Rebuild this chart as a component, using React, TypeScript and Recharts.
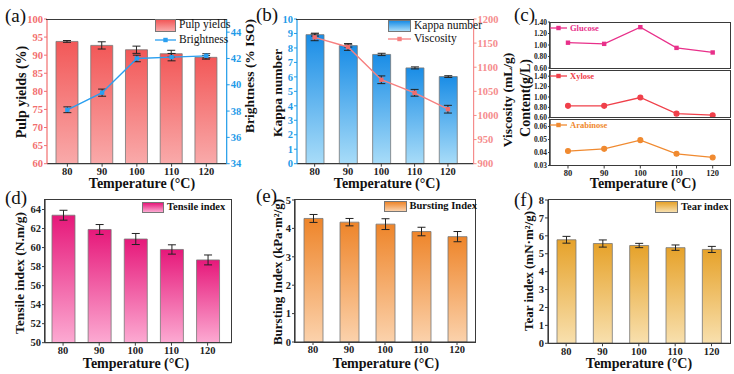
import React from "react";
import { ComposedChart, Bar, Line, XAxis, YAxis, ErrorBar } from "recharts";

const temperatures = ["80", "90", "100", "110", "120"];

// (a) pulp yield and brightness
const pulpYield = [93.8, 92.7, 91.5, 90.4, 89.4];
const pulpYieldErr = [0.25, 1.0, 1.0, 0.95, 0.5];
const brightness = [38.1, 39.4, 42.0, 42.1, 42.2];
const brightnessErr = [0.22, 0.27, 0.25, 0.28, 0.16];

// (b) kappa number and viscosity
const kappa = [8.92, 8.16, 7.55, 6.62, 6.02];
const kappaErr = [0.1, 0.1, 0.08, 0.07, 0.06];
const viscosity = [1162, 1142, 1074, 1047, 1013];
const viscosityErr = [7, 7, 8, 7, 8];

// (c) sugars in the liquor
const glucose = [1.04, 1.02, 1.31, 0.95, 0.87];
const xylose = [0.83, 0.83, 0.99, 0.68, 0.65];
const arabinose = [0.0411, 0.0428, 0.0495, 0.039, 0.0362];

// (d)-(f) paper strength
const tensile = [63.4, 61.9, 60.9, 59.8, 58.7];
const tensileErr = [0.52, 0.52, 0.58, 0.49, 0.52];
const bursting = [4.35, 4.22, 4.15, 3.89, 3.71];
const burstingErr = [0.14, 0.13, 0.19, 0.15, 0.18];
const tear = [5.78, 5.57, 5.46, 5.34, 5.24];
const tearErr = [0.19, 0.2, 0.12, 0.15, 0.17];

const SERIF = "'Liberation Serif', 'Times New Roman', serif";
const FRAME = "#3a3a3a";
const AXIS_W = 34;
const AXIS_H = 16;
const TOP = 5;
const BOTTOM = 5;

const rows = (cols: Record<string, number[]>) =>
  temperatures.map((t, i) => {
    const r: Record<string, any> = { t };
    Object.keys(cols).forEach((k) => (r[k] = cols[k][i]));
    return r;
  });

type Box = { x0: number; y0: number; x1: number; y1: number };

const tickStyle = (fill: string, size = 10.5) => ({
  fill,
  fontSize: size,
  fontWeight: 700,
  fontFamily: SERIF,
});

function Plot({
  box,
  data,
  rightAxis = false,
  xTicks = true,
  frame = "full",
  children,
}: {
  box: Box;
  data: any[];
  rightAxis?: boolean;
  xTicks?: boolean;
  frame?: "full" | "top";
  children: React.ReactNode;
}) {
  const xh = xTicks ? AXIS_H : 0;
  const rightW = rightAxis ? AXIS_W : 0;
  const mr = rightAxis ? 0 : 4;
  const width = box.x1 - box.x0 + AXIS_W + rightW + mr;
  const height = box.y1 - box.y0 + TOP + xh + BOTTOM;
  // box outline drawn over the plot area
  const border = `1.3px solid ${FRAME}`;
  const edge = frame === "full" ? { border } : { borderTop: border };
  return (
    <>
      <div style={{ position: "absolute", left: box.x0 - AXIS_W, top: box.y0 - TOP }}>
        <ComposedChart
          width={width}
          height={height}
          data={data}
          margin={{ top: TOP, right: mr, bottom: BOTTOM, left: 0 }}
        >
          {children}
        </ComposedChart>
      </div>
      <div
        style={{
          position: "absolute",
          left: box.x0 - 0.6,
          top: box.y0 - 0.6,
          width: box.x1 - box.x0 + 1.2,
          height: box.y1 - box.y0 + 1.2,
          boxSizing: "border-box",
          pointerEvents: "none",
          ...edge,
        }}
      />
    </>
  );
}

function Gradient({ id, top, bottom }: { id: string; top: string; bottom: string }) {
  return (
    <defs>
      <linearGradient id={id} x1="0" y1="0" x2="0" y2="1">
        <stop offset="0" stopColor={top} />
        <stop offset="1" stopColor={bottom} />
      </linearGradient>
    </defs>
  );
}

function Text({
  x,
  y,
  text,
  size = 14,
  vertical = false,
  bold = true,
  color = "#111",
  anchor = "center",
}: {
  x: number;
  y: number;
  text: React.ReactNode;
  size?: number;
  vertical?: boolean;
  bold?: boolean;
  color?: string;
  anchor?: "center" | "left";
}) {
  const tx = anchor === "center" ? "-50%" : "0";
  return (
    <div
      style={{
        position: "absolute",
        left: x,
        top: y,
        transform: `translate(${tx},-50%)${vertical ? " rotate(-90deg)" : ""}`,
        whiteSpace: "nowrap",
        fontFamily: SERIF,
        fontWeight: bold ? 700 : 400,
        fontSize: size,
        color,
        lineHeight: 1,
      }}
    >
      {text}
    </div>
  );
}

function BarKey({ x, y, w, h, top, bottom, label, bold = false, size }: any) {
  return (
    <>
      <div
        style={{
          position: "absolute",
          left: x,
          top: y,
          width: w,
          height: h,
          boxSizing: "border-box",
          border: "1px solid #777",
          background: `linear-gradient(${top}, ${bottom})`,
        }}
      />
      <Text x={x + w + 3} y={y + h / 2} text={label} anchor="left" bold={bold} size={size} />
    </>
  );
}

function LineKey({ x, y, w, color, label, square = true, size = 11, bold = false, textColor = "#111" }: any) {
  return (
    <>
      <svg style={{ position: "absolute", left: x, top: y - 4 }} width={w} height={8}>
        <line x1={0} y1={4} x2={w} y2={4} stroke={color} strokeWidth={1.3} />
        {square ? (
          <rect x={w / 2 - 2.2} y={1.8} width={4.4} height={4.4} fill={color} />
        ) : (
          <circle cx={w / 2} cy={4} r={2.4} fill={color} />
        )}
      </svg>
      <Text x={x + w + 3} y={y} text={label} anchor="left" size={size} bold={bold} color={textColor} />
    </>
  );
}

const squareDot = (color: string) => (p: any) =>
  <rect key={`sq-${p.index}`} x={p.cx - 2.2} y={p.cy - 2.2} width={4.4} height={4.4} fill={color} />;

function xAxis(padding: { left: number; right: number }, show = true, size = 10.5) {
  return (
    <XAxis
      dataKey="t"
      interval={0}
      height={show ? AXIS_H : 0}
      tick={show ? tickStyle("#222", size) : false}
      tickSize={3}
      tickMargin={1}
      tickLine={{ stroke: FRAME }}
      axisLine={{ stroke: FRAME, strokeWidth: 1.2 }}
      padding={padding}
    />
  );
}

const dataA = rows({ pulpYield, pulpYieldErr, brightness, brightnessErr });
const dataB = rows({ kappa, kappaErr, viscosity, viscosityErr });
const dataC = rows({ glucose, xylose, arabinose });
const dataD = rows({ tensile, tensileErr });
const dataE = rows({ bursting, burstingErr });
const dataF = rows({ tear, tearErr });

const RED_TICK = "#f26e6e";
const BLUE_TICK = "#1e9be8";
const PINK_TICK = "#f58c8c";

function SugarPanel({ box, dataKey, color, domain, ticks, square, showX, label }: any) {
  return (
    <>
      <Plot box={box} data={dataC} xTicks={showX}>
        {/* line-only chart uses a point scale, so pad it to band centres */}
        {xAxis({ left: 18, right: 18 }, showX, 8.5)}
        <YAxis
          width={AXIS_W}
          domain={domain}
          ticks={ticks}
          interval={0}
          allowDataOverflow
          tickFormatter={(v: number) => v.toFixed(2)}
          tick={tickStyle("#222", 7.5)}
          tickSize={2}
          tickMargin={1}
          tickLine={{ stroke: FRAME }}
          axisLine={{ stroke: FRAME, strokeWidth: 1.4 }}
        />
        <Line
          dataKey={dataKey}
          stroke={color}
          strokeWidth={1.3}
          dot={square ? squareDot(color) : { r: 2.4, fill: color, stroke: color }}
          isAnimationActive={false}
        />
      </Plot>
      <LineKey x={550} y={box.y0 + 5.5} w={17} color={color} square={square} label={label} size={8.5} bold textColor={color} />
    </>
  );
}

export default function App() {
  return (
    <div
      style={{
        position: "absolute",
        left: 0,
        top: 0,
        width: 734,
        height: 374,
        background: "#fff",
        overflow: "hidden",
      }}
    >
      {/* (a) pulp yield bars with brightness line */}
      <Plot box={{ x0: 47, y0: 19.3, x1: 226.7, y1: 164 }} data={dataA} rightAxis frame="top">
        <Gradient id="gradA" top="#f25858" bottom="#f9aaaa" />
        {xAxis({ left: 3, right: 3 })}
        <YAxis
          yAxisId="left"
          width={AXIS_W}
          domain={[60, 100]}
          ticks={[60, 65, 70, 75, 80, 85, 90, 95, 100]}
          interval={0}
          allowDataOverflow
          tick={tickStyle(RED_TICK)}
          tickSize={3}
          tickMargin={1}
          tickLine={{ stroke: RED_TICK }}
          axisLine={{ stroke: RED_TICK, strokeWidth: 1.2 }}
        />
        <YAxis
          yAxisId="right"
          orientation="right"
          width={AXIS_W}
          domain={[34, 45]}
          ticks={[34, 36, 38, 40, 42, 44]}
          interval={0}
          allowDataOverflow
          tick={tickStyle(BLUE_TICK)}
          tickSize={3}
          tickMargin={1}
          tickLine={{ stroke: BLUE_TICK }}
          axisLine={{ stroke: BLUE_TICK, strokeWidth: 1.2 }}
        />
        <Bar yAxisId="left" dataKey="pulpYield" barSize={22} fill="url(#gradA)" stroke="#777" strokeWidth={0.8} isAnimationActive={false}>
          <ErrorBar dataKey="pulpYieldErr" direction="y" width={4} stroke="#222" strokeWidth={1} />
        </Bar>
        <Line yAxisId="right" dataKey="brightness" stroke="#2a9ff0" strokeWidth={1.4} dot={squareDot("#2a9ff0")} isAnimationActive={false}>
          <ErrorBar dataKey="brightnessErr" direction="y" width={4} stroke="#222" strokeWidth={1} />
        </Line>
      </Plot>
      <BarKey x={155} y={18.5} w={21} h={13} top="#f25858" bottom="#f9aaaa" label="Pulp yields" size={11.5} />
      <LineKey x={155} y={39.5} w={21} color="#2a9ff0" label="Brightness" size={11.5} />

      {/* (b) kappa number bars with viscosity line */}
      <Plot box={{ x0: 296.7, y0: 19.3, x1: 473.3, y1: 164 }} data={dataB} rightAxis frame="top">
        <Gradient id="gradB" top="#1a8de6" bottom="#a8dcf8" />
        {xAxis({ left: 1, right: 9 })}
        <YAxis
          yAxisId="left"
          width={AXIS_W}
          domain={[0, 10]}
          ticks={[0, 1, 2, 3, 4, 5, 6, 7, 8, 9, 10]}
          interval={0}
          tick={tickStyle(BLUE_TICK)}
          tickSize={3}
          tickMargin={1}
          tickLine={{ stroke: BLUE_TICK }}
          axisLine={{ stroke: BLUE_TICK, strokeWidth: 1.2 }}
        />
        <YAxis
          yAxisId="right"
          orientation="right"
          width={AXIS_W}
          domain={[900, 1200]}
          ticks={[900, 950, 1000, 1050, 1100, 1150, 1200]}
          interval={0}
          allowDataOverflow
          tick={tickStyle(PINK_TICK)}
          tickSize={3}
          tickMargin={1}
          tickLine={{ stroke: PINK_TICK }}
          axisLine={{ stroke: PINK_TICK, strokeWidth: 1.2 }}
        />
        <Bar yAxisId="left" dataKey="kappa" barSize={18} fill="url(#gradB)" stroke="#777" strokeWidth={0.8} isAnimationActive={false}>
          <ErrorBar dataKey="kappaErr" direction="y" width={4} stroke="#222" strokeWidth={1} />
        </Bar>
        <Line yAxisId="right" dataKey="viscosity" stroke="#f78080" strokeWidth={1.4} dot={squareDot("#f06c6c")} isAnimationActive={false}>
          <ErrorBar dataKey="viscosityErr" direction="y" width={4} stroke="#222" strokeWidth={1} />
        </Line>
      </Plot>
      <BarKey x={388} y={20} w={23} h={12} top="#1a8de6" bottom="#a8dcf8" label="Kappa number" size={11.5} />
      <LineKey x={388} y={39} w={23} color="#f78080" label="Viscosity" size={11.5} />

      {/* (c) sugar content, three stacked panels */}
      <SugarPanel
        box={{ x0: 550, y0: 22.3, x1: 730.7, y1: 68.3 }}
        dataKey="glucose"
        color="#e8308a"
        domain={[0.6, 1.4]}
        ticks={[0.6, 0.8, 1.0, 1.2, 1.4]}
        square
        showX={false}
        label="Glucose"
      />
      <SugarPanel
        box={{ x0: 550, y0: 70.5, x1: 730.7, y1: 117.3 }}
        dataKey="xylose"
        color="#f0404a"
        domain={[0.6, 1.5]}
        ticks={[0.6, 0.8, 1.0, 1.2, 1.4]}
        showX={false}
        label="Xylose"
      />
      <SugarPanel
        box={{ x0: 550, y0: 119.5, x1: 730.7, y1: 165 }}
        dataKey="arabinose"
        color="#f08a30"
        domain={[0.03, 0.065]}
        ticks={[0.03, 0.04, 0.05, 0.06]}
        showX
        label="Arabinose"
      />

      {/* (d) tensile index */}
      <Plot box={{ x0: 45, y0: 200, x1: 231.7, y1: 342.7 }} data={dataD}>
        <Gradient id="gradD" top="#e6187a" bottom="#fcaad2" />
        {xAxis({ left: 0, right: 6 })}
        <YAxis
          width={AXIS_W}
          domain={[50, 65]}
          ticks={[50, 52, 54, 56, 58, 60, 62, 64]}
          interval={0}
          allowDataOverflow
          tick={tickStyle("#222")}
          tickSize={3}
          tickMargin={1}
          tickLine={{ stroke: FRAME }}
          axisLine={{ stroke: FRAME, strokeWidth: 1.2 }}
        />
        <Bar dataKey="tensile" barSize={23} fill="url(#gradD)" stroke="#777" strokeWidth={0.8} isAnimationActive={false}>
          <ErrorBar dataKey="tensileErr" direction="y" width={4} stroke="#222" strokeWidth={1} />
        </Bar>
      </Plot>
      <BarKey x={142} y={202} w={22} h={10.5} top="#e6187a" bottom="#fcaad2" label="Tensile index" bold size={10.5} />

      {/* (e) bursting index */}
      <Plot box={{ x0: 295, y0: 200, x1: 475, y1: 342 }} data={dataE}>
        <Gradient id="gradE" top="#ee852a" bottom="#fbd2ac" />
        {xAxis({ left: 0, right: 0 })}
        <YAxis
          width={AXIS_W}
          domain={[0, 5]}
          ticks={[0, 1, 2, 3, 4, 5]}
          interval={0}
          tick={tickStyle("#222")}
          tickSize={3}
          tickMargin={1}
          tickLine={{ stroke: FRAME }}
          axisLine={{ stroke: FRAME, strokeWidth: 1.2 }}
        />
        <Bar dataKey="bursting" barSize={19} fill="url(#gradE)" stroke="#777" strokeWidth={0.8} isAnimationActive={false}>
          <ErrorBar dataKey="burstingErr" direction="y" width={4} stroke="#222" strokeWidth={1} />
        </Bar>
      </Plot>
      <BarKey x={383.5} y={200.5} w={23} h={11.5} top="#ee852a" bottom="#fbd2ac" label="Bursting Index" bold size={10.5} />

      {/* (f) tear index */}
      <Plot box={{ x0: 548.3, y0: 200, x1: 730, y1: 343.3 }} data={dataF}>
        <Gradient id="gradF" top="#e6a22a" bottom="#f8e0ae" />
        {xAxis({ left: 0, right: 0 })}
        <YAxis
          width={AXIS_W}
          domain={[0, 8]}
          ticks={[0, 1, 2, 3, 4, 5, 6, 7, 8]}
          interval={0}
          tick={tickStyle("#222")}
          tickSize={3}
          tickMargin={1}
          tickLine={{ stroke: FRAME }}
          axisLine={{ stroke: FRAME, strokeWidth: 1.2 }}
        />
        <Bar dataKey="tear" barSize={19} fill="url(#gradF)" stroke="#777" strokeWidth={0.8} isAnimationActive={false}>
          <ErrorBar dataKey="tearErr" direction="y" width={4} stroke="#222" strokeWidth={1} />
        </Bar>
      </Plot>
      <BarKey x={655} y={201} w={23} h={11.5} top="#e6a22a" bottom="#f8e0ae" label="Tear index" bold size={10.5} />

      {/* panel letters */}
      <Text x={5} y={14.5} text="(a)" size={19} bold={false} anchor="left" />
      <Text x={256} y={13.5} text="(b)" size={19} bold={false} anchor="left" />
      <Text x={514} y={13.5} text="(c)" size={19} bold={false} anchor="left" />
      <Text x={5} y={196.5} text="(d)" size={19} bold={false} anchor="left" />
      <Text x={256} y={195} text="(e)" size={19} bold={false} anchor="left" />
      <Text x={514} y={199} text="(f)" size={19} bold={false} anchor="left" />

      {/* axis titles */}
      <Text x={22} y={92} text="Pulp yields (%)" size={14} vertical />
      <Text x={250} y={76} text="Brightness (% ISO)" size={13.5} vertical />
      <Text x={278} y={93} text="Kappa number" size={13.5} vertical />
      <Text x={508} y={100} text="Viscosity (mL/g)" size={13.5} vertical />
      <Text x={526} y={98} text="Content(g/L)" size={14} vertical />
      <Text x={20} y={273} text="Tensile index (N.m/g)" size={13.5} vertical />
      <Text x={277} y={272} text="Bursting Index (kPa·m²/g)" size={13} vertical />
      <Text x={528} y={271} text="Tear index (mN·m²/g)" size={13} vertical />

      <Text x={142} y={184} text="Temperature (°C)" size={14} />
      <Text x={387} y={184} text="Temperature (°C)" size={14} />
      <Text x={643} y={184} text="Temperature (°C)" size={14} />
      <Text x={136} y={363.5} text="Temperature (°C)" size={14} />
      <Text x={386} y={363.5} text="Temperature (°C)" size={14} />
      <Text x={639} y={363.5} text="Temperature (°C)" size={14} />
    </div>
  );
}
